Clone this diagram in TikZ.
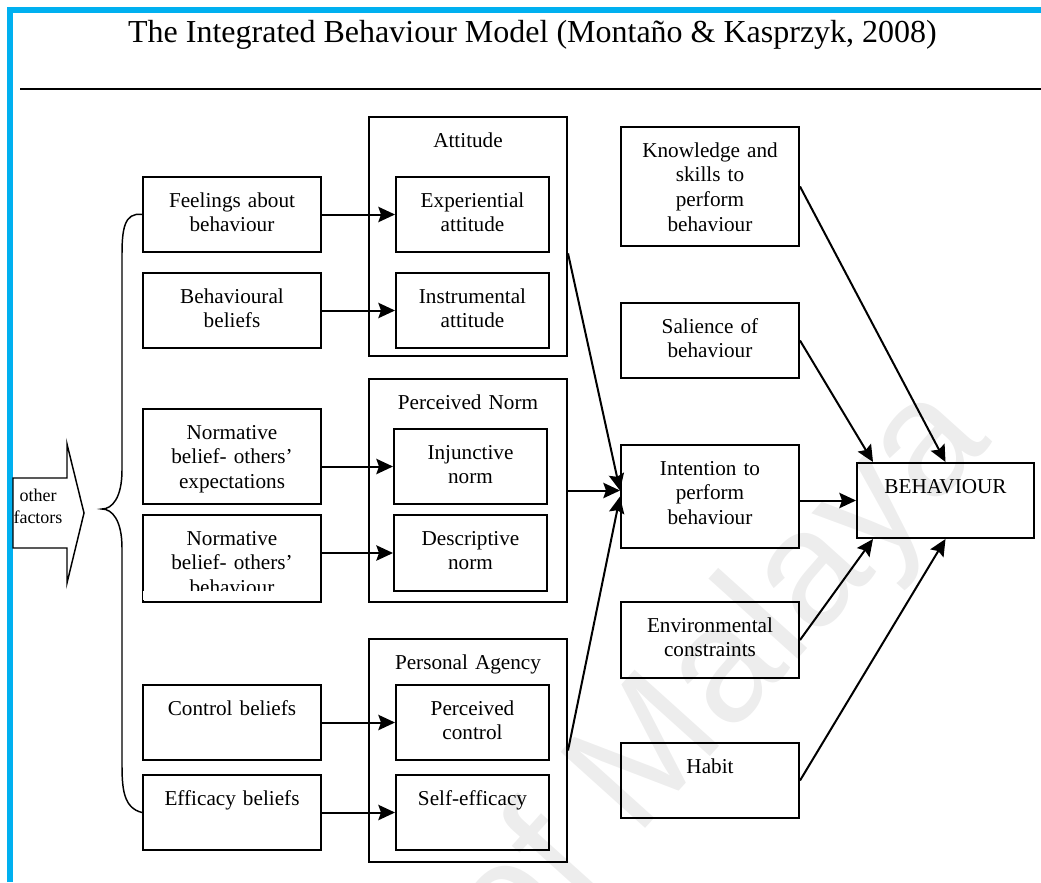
\documentclass[tikz,border=0pt]{standalone}
\usepackage{fontspec}
\setmainfont{Liberation Serif}
\newfontfamily\wmfont{Liberation Sans}
\usetikzlibrary{arrows.meta, positioning, calc}
\definecolor{wordblue}{HTML}{00B0F0}
\tikzstyle{box} = [rectangle, draw=black, line width=1.5pt, inner sep=0pt, anchor=north west, align=center, text height=22.5pt, font=\fontsize{15.9}{18.5}\selectfont]
\tikzstyle{factor} = [box, minimum width=133.5pt, text width=133.5pt, text depth=33.75pt]
\tikzstyle{sub} = [box, minimum width=114.75pt, text width=114.75pt, text depth=33.75pt]
\tikzstyle{group} = [box, minimum width=148.5pt, text width=148.5pt, text depth=144.75pt]
\tikzstyle{arrow} = [line width=1.5pt, -{Stealth[length=12.5pt, width=11.5pt, inset=2pt]}]
\tikzstyle{curly} = [line width=1.1pt]

\begin{document}
\begin{tikzpicture}[x=0.75pt, y=-0.75pt]
\useasboundingbox (0,0) rectangle (1041,882);

% filigrana
\node (wm) [rotate=48, text=black!7, font=\wmfont\fontsize{124}{124}\selectfont] at (722,680) {of Malaya};

% titolo e cornice
\draw [wordblue, line width=4.5pt] (10,882) -- (10,10) -- (1041,10);
\node (title) [anchor=base, font=\fontsize{24}{29}\selectfont] at (532.5,42) {The Integrated Behaviour Model (Montaño \& Kasprzyk, 2008)};
\draw [line width=1.5pt] (20,89) -- (1041,89);

% colonna sinistra
\node (feel) [factor] at (142,176) {Feelings about\\behaviour};
\node (behbel) [factor] at (142,272) {Behavioural\\beliefs};
\node (normexp) [factor, text depth=48.75pt] at (142,408) {Normative\\belief- others'\\expectations};
\node (normbeh) [factor, text depth=42.75pt] at (142,514) {Normative\\belief- others'\\behaviour};
\fill [white] (143,591) rectangle (319,600);
\node (ctrl) [factor] at (142,684) {Control beliefs};
\node (effic) [factor] at (142,774) {Efficacy beliefs};

% gruppi
\node (att) [group, text depth=156.75pt] at (368,116) {Attitude};
\node (norm) [group] at (368,378) {Perceived Norm};
\node (agency) [group] at (368,638) {Personal Agency};

\node (exper) [sub, right=54.75pt of feel] {Experiential\\attitude};
\node (instr) [sub, right=54.75pt of behbel] {Instrumental\\attitude};
\node (injunc) [sub] at (393,428) {Injunctive\\norm};
\node (descr) [sub, text depth=34.5pt] at (393,514) {Descriptive\\norm};
\node (percon) [sub, right=54.75pt of ctrl] {Perceived\\control};
\node (selfeff) [sub, right=54.75pt of effic] {Self-efficacy};

% colonna destra
\node (know) [factor, text depth=66.75pt] at (620,126) {Knowledge and\\skills to\\perform\\behaviour};
\node (sal) [factor] at (620,302) {Salience of\\behaviour};
\node (intent) [factor, text depth=54.75pt] at (620,444) {Intention to\\perform\\behaviour};
\node (env) [factor, text depth=34.5pt] at (620,601) {Environmental\\constraints};
\node (habit) [factor] at (620,742) {Habit};
\node (behav) [box, minimum width=132.75pt, text width=132.75pt, text depth=33.75pt] at (856,462) {BEHAVIOUR};

% freccia "other factors" e graffa
\draw [line width=1.1pt] (13,478) -- (67,478) -- (67,444) -- (84,513) -- (67,583) -- (67,548) -- (13,548) -- cycle;
\node (other) [font=\fontsize{13.5}{16.5}\selectfont, align=center, inner sep=0pt] at (38,506) {other\\factors};
\draw [curly] (feel.west) .. controls (124,212) and (122,230) .. (122,255) -- (122,470)
  .. controls (122,498) and (112,509) .. (102,509)
  .. controls (112,509) and (122,520) .. (122,548) -- (122,765)
  .. controls (122,790) and (124,808) .. (effic.west);

% connessioni
\draw [arrow] (feel) -- (exper);
\draw [arrow] (behbel) -- (instr);
\draw [arrow] (normexp.east |- injunc.west) -- (injunc.west);
\draw [arrow] (normbeh.east |- descr.west) -- (descr.west);
\draw [arrow] (ctrl) -- (percon);
\draw [arrow] (effic) -- (selfeff);

\draw [arrow] ($(att.north east)!0.57!(att.south east)$) -- ($(intent.west)+(0,-6)$);
\draw [arrow] (norm.east) -- (norm.east -| intent.west);
\draw [arrow] (agency.east) -- (intent.west);

\draw [arrow] (intent.east |- behav.west) -- (behav.west);
\draw [arrow] (know.east) -- (behav.north);
\draw [arrow] (sal.east) -- ($(behav.north west)+(17,0)$);
\draw [arrow] (env.east) -- ($(behav.south west)+(17,0)$);
\draw [arrow] (habit.east) -- (behav.south);

\end{tikzpicture}
\end{document}
